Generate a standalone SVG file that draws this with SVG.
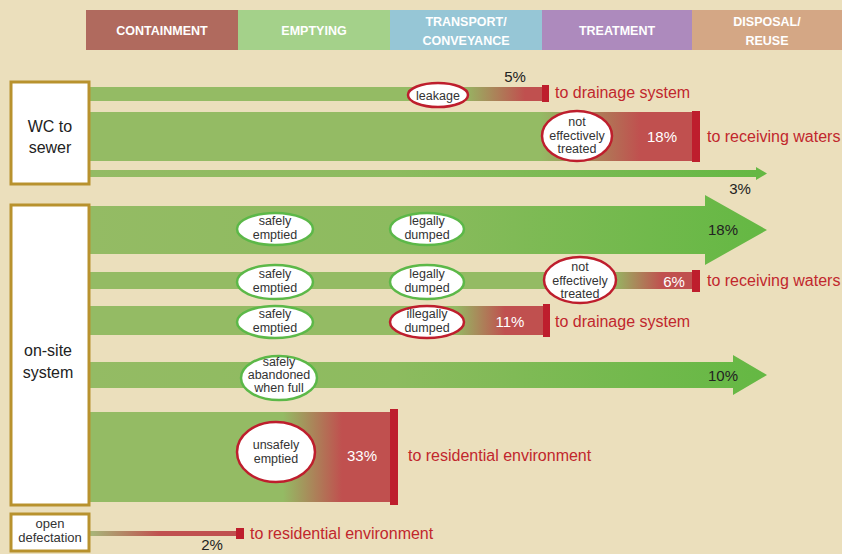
<svg xmlns="http://www.w3.org/2000/svg" width="842" height="554" viewBox="0 0 842 554">
<defs>
<style>
.hd{font-family:"Liberation Sans",Arial,sans-serif;font-size:12.5px;font-weight:bold;fill:#fff;text-anchor:middle}
.box{fill:#fff;stroke:#b8922e;stroke-width:3}
.bt{font-family:"Liberation Sans",Arial,sans-serif;font-size:16px;fill:#222;text-anchor:middle}
.st{font-family:"Liberation Sans",Arial,sans-serif;font-size:12.5px;fill:#333;text-anchor:middle}
.eg{fill:#fff;stroke:#5cb848;stroke-width:2.5}
.er{fill:#fff;stroke:#be1e2d;stroke-width:2.5}
.pw{font-family:"Liberation Sans",Arial,sans-serif;font-size:15px;fill:#fff;text-anchor:middle}
.pd{font-family:"Liberation Sans",Arial,sans-serif;font-size:15px;fill:#222;text-anchor:middle}
.rt{font-family:"Liberation Sans",Arial,sans-serif;font-size:16px;fill:#c1272d}
.cap{fill:#be1e2d}
</style>
<linearGradient id="gArrowA" gradientUnits="userSpaceOnUse" x1="90" y1="0" x2="767" y2="0"><stop offset="0" stop-color="#94bb64"/><stop offset="0.45" stop-color="#8dbb5f"/><stop offset="1" stop-color="#64b843"/></linearGradient>
<linearGradient id="gLeak" gradientUnits="userSpaceOnUse" x1="462" y1="0" x2="525" y2="0"><stop offset="0" stop-color="#94bb64"/><stop offset="1" stop-color="#c0504f"/></linearGradient>
<linearGradient id="gWC18" gradientUnits="userSpaceOnUse" x1="540" y1="0" x2="640" y2="0"><stop offset="0" stop-color="#94bb64"/><stop offset="1" stop-color="#c0504f"/></linearGradient>
<linearGradient id="gB" gradientUnits="userSpaceOnUse" x1="612" y1="0" x2="662" y2="0"><stop offset="0" stop-color="#94bb64"/><stop offset="1" stop-color="#c0504f"/></linearGradient>
<linearGradient id="gC" gradientUnits="userSpaceOnUse" x1="455" y1="0" x2="505" y2="0"><stop offset="0" stop-color="#94bb64"/><stop offset="1" stop-color="#c0504f"/></linearGradient>
<linearGradient id="gE" gradientUnits="userSpaceOnUse" x1="283" y1="0" x2="342" y2="0"><stop offset="0" stop-color="#94bb64"/><stop offset="1" stop-color="#c0504f"/></linearGradient>
<linearGradient id="gF" gradientUnits="userSpaceOnUse" x1="92" y1="0" x2="160" y2="0"><stop offset="0" stop-color="#a8b478"/><stop offset="1" stop-color="#c0504f"/></linearGradient>
</defs>
<rect x="0" y="0" width="842" height="554" fill="#ebdfbc"/>

<g id="header">
<g id="h-containment"><rect x="86" y="10" width="152" height="40" fill="#b06a5e"/><text class="hd" x="162" y="35">CONTAINMENT</text></g>
<g id="h-emptying"><rect x="238" y="10" width="152" height="40" fill="#a4d18a"/><text class="hd" x="314" y="35">EMPTYING</text></g>
<g id="h-transport"><rect x="390" y="10" width="152" height="40" fill="#96c6d6"/><text class="hd" x="466" y="26">TRANSPORT/</text><text class="hd" x="466" y="45">CONVEYANCE</text></g>
<g id="h-treatment"><rect x="542" y="10" width="150" height="40" fill="#ad8abd"/><text class="hd" x="617" y="35">TREATMENT</text></g>
<g id="h-disposal"><rect x="692" y="10" width="150" height="40" fill="#d4a785"/><text class="hd" x="767" y="26">DISPOSAL/</text><text class="hd" x="767" y="45">REUSE</text></g>
</g>

<g id="connectors">
<rect x="90" y="87" width="453" height="14" fill="url(#gLeak)"/>
<rect class="cap" x="542" y="85" width="7" height="17"/>
<rect x="90" y="112" width="603" height="49" fill="url(#gWC18)"/>
<rect class="cap" x="692" y="111" width="8" height="51"/>
<polygon points="90,170 756,170 756,167 767,173.5 756,180 756,177 90,177" fill="url(#gArrowA)"/>
<polygon points="90,206 705,206 705,195 767,230 705,265 705,254 90,254" fill="url(#gArrowA)"/>
<rect x="90" y="272" width="603" height="17" fill="url(#gB)"/>
<rect class="cap" x="692" y="270" width="8" height="22"/>
<rect x="90" y="306" width="454" height="29" fill="url(#gC)"/>
<rect class="cap" x="543" y="304" width="7" height="33"/>
<polygon points="90,362 733,362 733,355 767,375 733,395 733,388 90,388" fill="url(#gArrowA)"/>
<rect x="90" y="412" width="301" height="90" fill="url(#gE)"/>
<rect class="cap" x="390" y="409" width="8" height="96"/>
<rect x="90" y="531" width="147" height="5" fill="url(#gF)"/>
<rect class="cap" x="236" y="528" width="8" height="11"/>
</g>

<g id="wc-to-sewer"><rect class="box" x="11" y="82" width="78" height="102"/><text class="bt" x="50" y="132">WC to</text><text class="bt" x="50" y="153">sewer</text></g>
<g id="on-site-system"><rect class="box" x="11" y="205" width="78" height="300"/><text class="bt" x="48" y="356">on-site</text><text class="bt" x="48" y="378">system</text></g>
<g id="open-defecation"><rect class="box" x="11" y="514" width="78" height="37"/><text class="st" x="50" y="528" style="font-size:13px">open</text><text class="st" x="50" y="542" style="font-size:13px">defectation</text></g>

<g id="e-leakage"><ellipse class="er" cx="438" cy="95" rx="30" ry="12"/><text class="st" x="438" y="100">leakage</text></g>
<g id="e-wc-not-treated"><ellipse class="er" cx="577" cy="136" rx="35" ry="25"/><text class="st" x="577" y="126">not</text><text class="st" x="577" y="140">effectively</text><text class="st" x="577" y="153">treated</text></g>
<g id="e-a-safely"><ellipse class="eg" cx="275" cy="229" rx="38" ry="16"/><text class="st" x="275" y="225">safely</text><text class="st" x="275" y="239">emptied</text></g>
<g id="e-a-legally"><ellipse class="eg" cx="427" cy="229" rx="37" ry="16"/><text class="st" x="427" y="225">legally</text><text class="st" x="427" y="239">dumped</text></g>
<g id="e-b-safely"><ellipse class="eg" cx="275" cy="282" rx="38" ry="17"/><text class="st" x="275" y="278">safely</text><text class="st" x="275" y="292">emptied</text></g>
<g id="e-b-legally"><ellipse class="eg" cx="427" cy="282" rx="37" ry="17"/><text class="st" x="427" y="278">legally</text><text class="st" x="427" y="292">dumped</text></g>
<g id="e-b-not-treated"><ellipse class="er" cx="580" cy="280" rx="36" ry="23"/><text class="st" x="580" y="271">not</text><text class="st" x="580" y="285">effectively</text><text class="st" x="580" y="298">treated</text></g>
<g id="e-c-safely"><ellipse class="eg" cx="275" cy="322" rx="38" ry="16"/><text class="st" x="275" y="318">safely</text><text class="st" x="275" y="332">emptied</text></g>
<g id="e-c-illegally"><ellipse class="er" cx="427" cy="322" rx="37" ry="16"/><text class="st" x="427" y="318">illegally</text><text class="st" x="427" y="332">dumped</text></g>
<g id="e-d-abandoned"><ellipse class="eg" cx="279" cy="378" rx="38" ry="22"/><text class="st" x="279" y="366">safely</text><text class="st" x="279" y="379">abandoned</text><text class="st" x="279" y="392">when full</text></g>
<g id="e-e-unsafely"><ellipse class="er" cx="276" cy="452" rx="39" ry="30"/><text class="st" x="276" y="449">unsafely</text><text class="st" x="276" y="463">emptied</text></g>

<g id="labels">
<text class="pd" x="515" y="82">5%</text>
<text class="rt" x="555" y="98">to drainage system</text>
<text class="pw" x="662" y="142">18%</text>
<text class="rt" x="707" y="142">to receiving waters</text>
<text class="pd" x="740" y="194">3%</text>
<text class="pd" x="723" y="235">18%</text>
<text class="pw" x="674" y="287">6%</text>
<text class="rt" x="707" y="286">to receiving waters</text>
<text class="pw" x="510" y="327">11%</text>
<text class="rt" x="555" y="327">to drainage system</text>
<text class="pd" x="723" y="381">10%</text>
<text class="pw" x="362" y="461">33%</text>
<text class="rt" x="408" y="461">to residential environment</text>
<text class="rt" x="250" y="539">to residential environment</text>
<text class="pd" x="212" y="550">2%</text>
</g>
</svg>
